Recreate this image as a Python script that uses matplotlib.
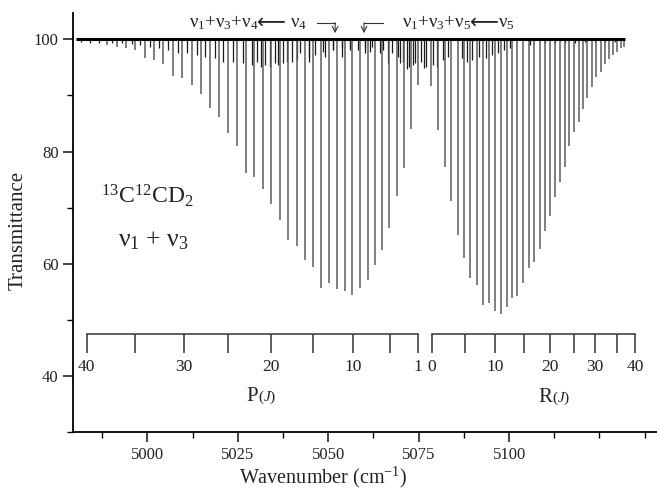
import matplotlib
matplotlib.use('Agg')
import matplotlib.pyplot as plt
from matplotlib.ticker import MultipleLocator, FixedLocator

plt.rcParams['font.family'] = ['Liberation Serif', 'DejaVu Sans']
plt.rcParams['mathtext.fontset'] = 'custom'
plt.rcParams['mathtext.rm'] = 'Liberation Serif'
plt.rcParams['mathtext.it'] = 'Liberation Serif:italic'
plt.rcParams['mathtext.bf'] = 'Liberation Serif:bold'

# ---- strong lines: P branch (J = 1 .. 38) ----
p_wn = [5074.76, 5072.91, 5070.89, 5068.95, 5066.91, 5064.97, 5062.95, 5060.93,
        5058.81, 5056.68, 5054.58, 5052.36, 5050.24, 5047.94, 5045.81, 5043.60,
        5041.31, 5038.98, 5036.69, 5034.28, 5031.90, 5029.58, 5027.20, 5024.72,
        5022.31, 5019.82, 5017.33, 5014.85, 5012.28, 5009.68, 5007.19, 5004.42,
        5001.85, 4999.36, 4996.68, 4994.11, 4991.54, 4988.94]
p_T = [91.87, 83.99, 77.05, 72.00, 66.37, 62.38, 59.84, 57.05,
       55.69, 54.50, 55.21, 55.52, 56.58, 55.69, 59.36, 60.61,
       63.22, 64.16, 67.72, 70.69, 73.31, 75.41, 76.16, 81.01,
       83.38, 86.23, 87.72, 90.27, 91.87, 93.06, 93.47, 95.55,
       96.32, 96.62, 98.10, 98.40, 98.70, 99.00]

# ---- strong lines: R branch (J = 0 .. 37) ----
r_wn = [5078.52, 5080.45, 5082.22, 5084.05, 5085.82, 5087.56, 5089.30, 5091.07,
        5092.73, 5094.39, 5096.05, 5097.71, 5099.37, 5100.83, 5102.30, 5103.87,
        5105.45, 5107.00, 5108.49, 5109.95, 5111.34, 5112.64, 5114.02, 5115.40,
        5116.67, 5117.97, 5119.27, 5120.46, 5121.65, 5122.95, 5124.14, 5125.35,
        5126.46, 5127.56, 5128.67, 5129.77, 5130.88, 5131.88]
r_T = [91.69, 83.86, 77.22, 71.10, 65.18, 61.03, 57.47, 56.28,
       52.72, 53.02, 51.53, 51.12, 52.31, 53.91, 54.32, 56.58,
       59.25, 60.32, 62.69, 65.77, 68.56, 71.81, 74.56, 77.22,
       81.07, 83.45, 85.34, 87.60, 89.50, 91.46, 93.24, 94.13,
       95.55, 96.44, 97.21, 97.79, 98.40, 98.58]

# ---- weak (hot band) lines ----
weak_wn = [4981.5, 4984.0, 4986.5, 4990.2, 4992.92, 4995.69, 4997.98, 5000.75,
           5003.32, 5005.81, 5008.57, 5011.06, 5013.66, 5015.95, 5018.72,
           5021.01, 5023.78, 5026.38, 5028.86, 5031.35, 5033.92, 5036.22,
           5038.54, 5041.31, 5044.70, 5046.36, 5048.66, 5051.42, 5053.75,
           5056.04, 5060.19, 5062.20, 5065.25, 5067.57, 5069.39, 5070.80,
           5072.44, 5074.01, 5075.59, 5076.55, 5077.05, 5078.90, 5080.18,
           5081.67, 5083.22, 5086.92, 5088.31, 5089.69, 5091.71, 5093.50,
           5095.16, 5096.82, 5098.48, 5100.14, 5105.80, 5110.0, 5112.8,
           5115.5, 5118.3, 5121.0, 5123.8, 5126.6, 5129.3]
weak_T = [99.5, 99.4, 99.4, 99.3, 99.29, 99.16, 98.99, 98.69,
          98.40, 98.10, 97.51, 97.51, 97.21, 96.90, 96.62,
          96.01, 96.01, 95.73, 95.43, 95.12, 95.12, 95.43,
          96.01, 96.32, 96.90, 97.21, 97.74, 98.10, 98.40,
          98.69, 98.40, 98.69, 98.10, 97.51, 96.90, 96.01,
          95.12, 95.73, 96.01, 94.90, 95.12, 95.43, 95.12,
          96.32, 96.90, 96.62, 96.01, 96.32, 96.90, 96.62,
          97.21, 97.51, 98.10, 98.40, 98.99, 99.3, 99.4,
          99.4, 99.4, 99.5, 99.5, 99.5, 99.6]

# ---- further weak lines (second hot band / unassigned) ----
weak2_wn = [5030.25, 5032.54, 5035.31, 5037.60, 5039.92, 5042.22, 5044.79,
            5049.13, 5051.42, 5053.75, 5056.04, 5058.34, 5060.19, 5061.57,
            5064.34, 5066.63, 5069.87, 5071.72, 5073.54]
weak2_T = [96.0, 95.4, 95.7, 95.7, 96.0, 97.5, 96.0,
           96.9, 98.1, 96.9, 98.1, 98.1, 97.5, 97.8,
           97.5, 95.7, 95.7, 94.8, 95.4]

# ---- J rulers ----
p_ruler_J = [40, 35, 30, 25, 20, 15, 10, 5, 1]
p_ruler_wn = [4983.2, 4996.6, 5010.0, 5022.4, 5034.2, 5045.9, 5056.8, 5067.1, 5074.8]
p_label_J = [40, 30, 20, 10, 1]
r_ruler_J = [0, 5, 10, 15, 20, 25, 30, 35, 40]
r_ruler_wn = [5078.6, 5087.9, 5096.2, 5104.0, 5111.4, 5118.0, 5123.8, 5129.8, 5134.9]
r_label_J = [0, 10, 20, 30, 40]

x_ticks = [5000, 5025, 5050, 5075, 5100]
y_ticks = [40, 60, 80, 100]

fig = plt.figure(figsize=(6.57, 4.93), dpi=100)
ax = fig.add_axes([73.3 / 657, 61 / 493, 583.7 / 657, 419 / 493])

ax.vlines(weak_wn, weak_T, 100, color='#1a1a1a', lw=0.9)
ax.vlines(weak2_wn, weak2_T, 100, color='#1a1a1a', lw=0.9)
ax.vlines(p_wn, p_T, 100, color='#5c5c5c', lw=1.1)
ax.vlines(r_wn, r_T, 100, color='#5c5c5c', lw=1.1)
ax.hlines(100, 4980.3, 5132.1, color='black', lw=2.2)

# rulers
ruler_y, ruler_tick = 47.4, 44.1
ax.plot([p_ruler_wn[0], p_ruler_wn[-1]], [ruler_y, ruler_y], color='#333333', lw=1.1)
ax.vlines(p_ruler_wn, ruler_tick, ruler_y, color='#333333', lw=1.1)
ax.plot([r_ruler_wn[0], r_ruler_wn[-1]], [ruler_y, ruler_y], color='#333333', lw=1.1)
ax.vlines(r_ruler_wn, ruler_tick, ruler_y, color='#333333', lw=1.1)
for J, w in zip(p_ruler_J, p_ruler_wn):
    if J in p_label_J:
        ax.text(w, 41.6, str(J), ha='center', va='center', fontsize=12.5, color='#222222')
for J, w in zip(r_ruler_J, r_ruler_wn):
    if J in r_label_J:
        ax.text(w, 41.6, str(J), ha='center', va='center', fontsize=12.5, color='#222222')
ax.text(5030.6, 35.5, 'P', ha='right', va='baseline', fontsize=15, color='#222222')
ax.text(5030.6, 35.5, r'($\mathit{J}$)', ha='left', va='baseline', fontsize=11, color='#222222')
ax.text(5112.0, 35.3, 'R', ha='right', va='baseline', fontsize=15, color='#222222')
ax.text(5112.0, 35.3, r'($\mathit{J}$)', ha='left', va='baseline', fontsize=11, color='#222222')

# band labels
ax.text(5000.0, 72.1, r'$^{13}$C$^{12}$CD$_2$', ha='center', va='center', fontsize=17, color='#222222')
ax.text(5001.8, 64.1, r'ν$_1$ + ν$_3$', ha='center', va='center', fontsize=18.5, color='#222222')

# top annotations
ty = 102.2
ax.text(5030.6, ty, r'ν$_1$+ν$_3$+ν$_4$', ha='right', va='baseline', fontsize=13.5, color='#222222')
ax.text(5034.3, ty + 0.9, '⟵', ha='center', va='center', fontsize=14.5, color='#222222',
        family='DejaVu Sans')
ax.text(5039.3, ty, r'ν$_4$', ha='left', va='baseline', fontsize=13.5, color='#222222')
ax.text(5089.5, ty, r'ν$_1$+ν$_3$+ν$_5$', ha='right', va='baseline', fontsize=13.5, color='#222222')
ax.text(5093.2, ty + 0.9, '⟵', ha='center', va='center', fontsize=14.5, color='#222222',
        family='DejaVu Sans')
ax.text(5097.0, ty, r'ν$_5$', ha='left', va='baseline', fontsize=13.5, color='#222222')

# small hook arrows
ax.plot([5046.9, 5051.9], [102.95, 102.95], color='#333333', lw=0.8)
ax.annotate('', xy=(5051.9, 101.1), xytext=(5051.9, 102.95),
            arrowprops=dict(arrowstyle='->', color='#333333', lw=0.8, shrinkA=0, shrinkB=0))
ax.plot([5059.9, 5065.2], [102.95, 102.95], color='#333333', lw=0.8)
ax.annotate('', xy=(5059.9, 101.1), xytext=(5059.9, 102.95),
            arrowprops=dict(arrowstyle='->', color='#333333', lw=0.8, shrinkA=0, shrinkB=0))

ax.set_xlim(4979.5, 5140.9)
ax.set_ylim(30, 104.7)
ax.xaxis.set_major_locator(FixedLocator(x_ticks))
ax.xaxis.set_minor_locator(MultipleLocator(12.5))
ax.yaxis.set_major_locator(FixedLocator(y_ticks))
ax.yaxis.set_minor_locator(MultipleLocator(10))
for s in ['top', 'right']:
    ax.spines[s].set_visible(False)
for s in ['left', 'bottom']:
    ax.spines[s].set_linewidth(1.3)
ax.tick_params(which='major', direction='out', length=7, width=1.2, labelsize=12, colors='#222222')
ax.tick_params(which='minor', direction='out', length=4, width=1.0)
ax.set_xlabel('Wavenumber (cm$^{-1}$)', fontsize=14.5, color='#222222')
ax.set_ylabel('Transmittance', fontsize=15, color='#222222')
ax.xaxis.set_label_coords(0.428, -0.078)
ax.yaxis.set_label_coords(-0.078, 0.48)

fig.savefig('out.png', dpi=100)
